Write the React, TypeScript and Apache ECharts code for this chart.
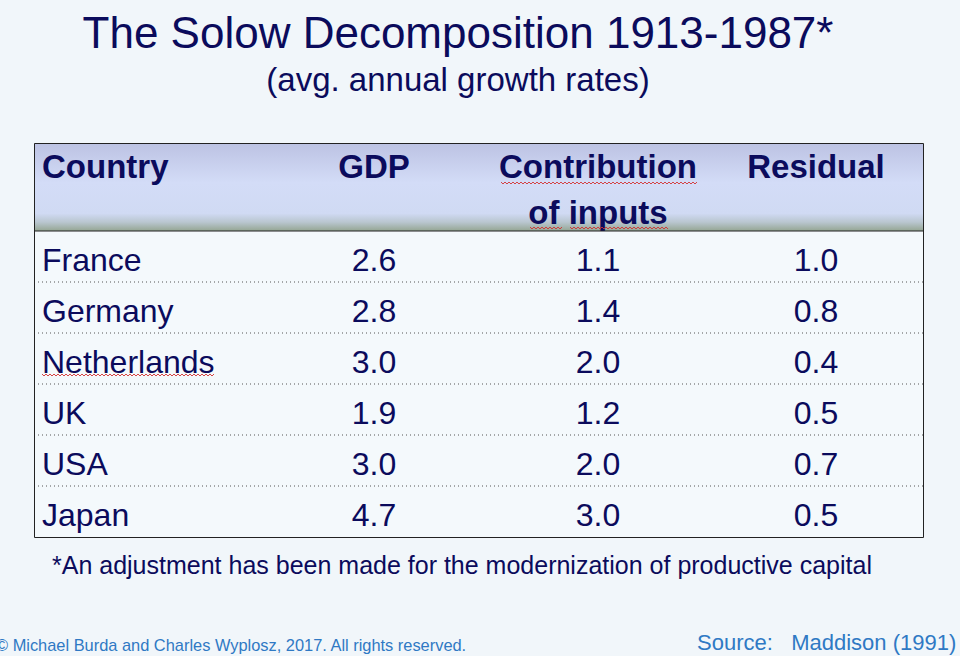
import React, { useEffect, useRef } from "react";
import * as echarts from "echarts";

const titleText = "The Solow Decomposition 1913-1987*";
const subtitleText = "(avg. annual growth rates)";
const headers = ["Country", "GDP", "Contribution", "Residual"];
const headerLine2 = ["", "", "of inputs", ""];
const countries = ["France", "Germany", "Netherlands", "UK", "USA", "Japan"];
const gdp = [2.6, 2.8, 3.0, 1.9, 3.0, 4.7];
const inputs = [1.1, 1.4, 2.0, 1.2, 2.0, 3.0];
const residual = [1.0, 0.8, 0.4, 0.5, 0.7, 0.5];
const footnote = "*An adjustment has been made for the modernization of productive capital";
const copyright = "\u00a9 Michael Burda and Charles Wyplosz, 2017. All rights reserved.";
const sourceText = "Source:   Maddison (1991)";

const NAVY = "#0b0b5c";
const BLUE = "#2f79c4";

function squiggle(x1: number, x2: number, y: number) {
  const pts: number[][] = [];
  let up = true;
  for (let x = x1; x <= x2; x += 2) {
    pts.push([x, y + (up ? -1 : 1)]);
    up = !up;
  }
  return {
    type: "polyline",
    shape: { points: pts },
    style: { stroke: "#d23030", lineWidth: 0.9, fill: null },
    silent: true,
  };
}

export default function App() {
  const ref = useRef<HTMLDivElement>(null);
  useEffect(() => {
    document.body.style.margin = "0";
    const chart = echarts.init(ref.current!, null, { renderer: "svg" });
    const left = 34, right = 923, top = 143, headBottom = 231, bottom = 537;
    const rowH = (bottom - headBottom) / countries.length;
    const colX = [42, 374, 598, 816];
    const els: any[] = [];
    els.push({ type: "rect", shape: { x: 0, y: 0, width: 960, height: 656 }, style: { fill: "#f1f6fa" } });
    els.push({
      type: "text", x: 458, y: 32,
      style: { text: titleText, font: "44px 'Liberation Sans', Arial", fill: NAVY, textAlign: "center", textVerticalAlign: "middle" },
    });
    els.push({
      type: "text", x: 458, y: 79,
      style: { text: subtitleText, font: "33px 'Liberation Sans', Arial", fill: NAVY, textAlign: "center", textVerticalAlign: "middle" },
    });
    // table body
    els.push({ type: "rect", shape: { x: left, y: headBottom, width: right - left, height: bottom - headBottom }, style: { fill: "#f4f9fc" } });
    // header
    els.push({
      type: "rect", shape: { x: left, y: top, width: right - left, height: headBottom - top },
      style: {
        fill: new echarts.graphic.LinearGradient(0, 0, 0, 1, [
          { offset: 0, color: "#bcc2e3" },
          { offset: 0.45, color: "#d3dcf7" },
          { offset: 0.8, color: "#d0daf3" },
          { offset: 0.9, color: "#b9c6cf" },
          { offset: 1, color: "#94a592" },
        ]),
      },
    });
    headers.forEach((h, i) => {
      els.push({
        type: "text", x: colX[i], y: 166,
        style: { text: h, font: "bold 33px 'Liberation Sans', Arial", fill: NAVY, textAlign: i === 0 ? "left" : "center", textVerticalAlign: "middle" },
      });
      if (headerLine2[i]) {
        els.push({
          type: "text", x: colX[i], y: 212,
          style: { text: headerLine2[i], font: "bold 33px 'Liberation Sans', Arial", fill: NAVY, textAlign: "center", textVerticalAlign: "middle" },
        });
      }
    });
    // rows
    countries.forEach((c, r) => {
      const cy = headBottom + rowH * r + rowH / 2 + 3;
      const vals = [c, gdp[r].toFixed(1), inputs[r].toFixed(1), residual[r].toFixed(1)];
      vals.forEach((v, i) => {
        els.push({
          type: "text", x: colX[i], y: cy,
          style: { text: v, font: "32px 'Liberation Sans', Arial", fill: NAVY, textAlign: i === 0 ? "left" : "center", textVerticalAlign: "middle" },
        });
      });
      if (r > 0) {
        const ly = headBottom + rowH * r;
        els.push({ type: "line", shape: { x1: left, y1: ly, x2: right, y2: ly }, style: { stroke: "#555", lineWidth: 1, lineDash: [1, 3] } });
      }
    });
    // borders
    els.push({ type: "line", shape: { x1: left, y1: headBottom, x2: right, y2: headBottom }, style: { stroke: "#222", lineWidth: 1 } });
    els.push({ type: "rect", shape: { x: left + 0.5, y: top + 0.5, width: right - left, height: bottom - top }, style: { fill: null, stroke: "#222", lineWidth: 1 } });
    // spell-check squiggles
    els.push(squiggle(501, 698, 183));
    els.push(squiggle(530, 562, 228));
    els.push(squiggle(570, 668, 228));
    els.push(squiggle(42, 215, 375));
    // footnote and credits
    els.push({
      type: "text", x: 52, y: 565,
      style: { text: footnote, font: "25px 'Liberation Sans', Arial", fill: NAVY, textAlign: "left", textVerticalAlign: "middle" },
    });
    els.push({
      type: "text", x: -4, y: 645,
      style: { text: copyright, font: "16.4px 'Liberation Sans', Arial", fill: BLUE, textAlign: "left", textVerticalAlign: "middle" },
    });
    els.push({
      type: "text", x: 697, y: 642,
      style: { text: sourceText, font: "22px 'Liberation Sans', Arial", fill: BLUE, textAlign: "left", textVerticalAlign: "middle" },
    });
    chart.setOption({ animation: false, graphic: { elements: els } });
    return () => chart.dispose();
  }, []);
  return <div ref={ref} style={{ width: 960, height: 656 }} />;
}
